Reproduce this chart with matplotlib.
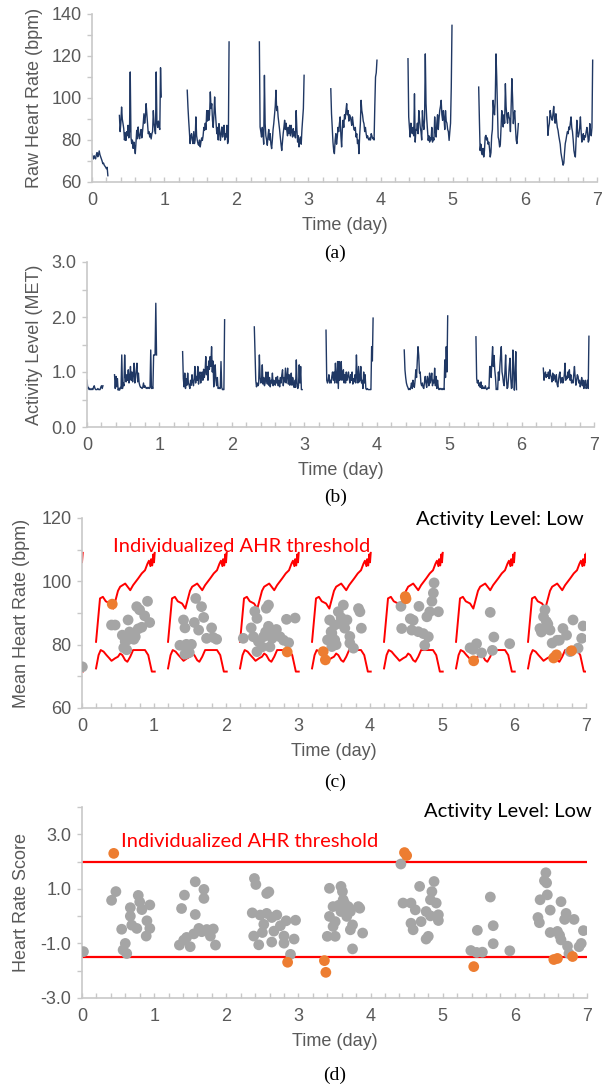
import numpy as np
import matplotlib
matplotlib.use("Agg")
import matplotlib.pyplot as plt
from matplotlib.ticker import MultipleLocator

# ---------------- data ----------------
# (a) raw heart rate (bpm): recording blocks, one sample every 0.01 day
hr_starts = [0.00, 0.38, 1.32, 2.32, 3.31, 4.38, 5.36, 6.31]
hr_seg0 = [73.5, 72, 71, 72.5, 71.5, 71, 73, 74, 72, 73, 74.8, 73, 72, 71, 70, 68.7,
           69, 68, 67.5, 67, 66.3, 67, 63]
hr_seg1 = [91.7, 84, 88, 95.7, 90, 87.8, 85.4, 80, 83.5, 79.8,
           84, 82, 87, 81, 84, 112.4, 81.4, 78.3, 80, 76,
           79, 77, 73.5, 79, 84.6, 80.6, 86.2, 82.2, 80.6, 83,
           85, 81, 84, 87.8, 92.5, 88, 91, 97.3, 92.5, 87.8,
           83, 84, 81.4, 83, 80.5, 83, 84, 94, 88, 85,
           83, 112.4, 87.8, 86, 89, 86.2, 85, 114.4, 100.5]
hr_seg2 = [103.7, 95.7, 89.4, 84, 78.3, 82, 83, 80, 78.3, 84,
           78.3, 80, 91, 82, 79.8, 78, 77.5, 80, 76.7, 79,
           81, 79.8, 82, 86, 84.6, 88, 85, 94, 89, 94,
           89.4, 92, 102.9, 95, 97.3, 89.4, 86, 92, 100.5, 93,
           88, 83, 86, 80, 87.8, 84, 79.8, 83, 86.2, 81.4,
           84, 87, 80, 83, 81.4, 87, 78.3, 80, 126.7]
hr_seg3 = [126.7, 86.2, 84, 81.4, 86, 83, 78, 110.8, 87.8, 82,
           80, 77.5, 82, 85, 80, 83, 78, 75.9, 80, 85,
           88, 92, 96, 103.7, 94, 96, 91, 88, 85, 81.4,
           78, 75, 79, 83, 86, 89.4, 85, 88, 84.6, 82,
           86, 83, 87, 82, 87, 84, 81.4, 85.4, 82, 84,
           81, 94, 85, 79, 82, 76.7, 80, 81.4, 78, 85,
           90, 95, 110.8]
hr_seg4 = [104.4, 92.5, 86, 79, 75, 73.5, 80, 83, 78, 81.4,
           86, 84, 88, 91, 82, 76.7, 85, 89.4, 86, 92,
           90, 94, 97.3, 92, 94, 89, 92, 91, 89.4, 87,
           91, 88, 85, 84.6, 86, 81.4, 83, 78.3, 80, 73.5,
           82, 88, 98.9, 94, 92, 89, 87.8, 84, 86, 83,
           81, 82, 80.6, 80, 81, 80, 83, 82, 80.6, 81,
           80, 96, 110, 112, 118]
hr_seg5 = [118.7, 91, 86, 81.4, 88, 84, 83, 86, 82, 102,
           79, 85, 84.6, 88, 83, 94, 90, 86, 84, 80,
           94, 88, 85, 90, 121, 97.3, 90, 85, 79.8, 82,
           79, 81, 80, 86, 79, 81, 80, 91, 84, 81.4,
           88, 92, 85, 90, 94, 96, 98.9, 92, 89.4, 94,
           90, 85, 94, 89, 88, 85, 84, 79.8, 84, 88,
           105.2, 134.6]
hr_seg6 = [105.2, 89.4, 75, 78, 74, 73, 76, 71.9, 75, 81.4,
           82.2, 80, 81, 78, 79, 76, 71.9, 74, 82, 85,
           98.9, 94, 92, 100, 121, 110, 95, 81.4, 80, 76.7,
           78, 86, 94, 90, 86.2, 92, 88, 106.8, 96, 91,
           88, 93, 91, 90, 84, 96, 109.2, 100, 87.8, 92.5,
           94, 86, 80, 78.3, 83, 87.8]
hr_seg7 = [91, 82.2, 86, 88, 94, 92, 90, 89.4, 92.5, 96,
           90, 88, 92.5, 89, 86, 84.6, 82, 80, 78, 74,
           71.9, 70, 68, 69, 74, 78.3, 80, 82.2, 84, 83,
           86.2, 85, 88, 91, 86, 84, 80, 75, 73, 71.9,
           80, 89.4, 84, 81.4, 83, 86, 91, 84, 79, 81,
           83, 80, 82, 81.4, 84, 86, 83, 79, 80, 87.8,
           84, 82, 86, 118]
hr_segments = [hr_seg0, hr_seg1, hr_seg2, hr_seg3, hr_seg4, hr_seg5, hr_seg6, hr_seg7]

# (b) activity level (MET), same sampling
met_starts = [0.00, 0.38, 1.32, 2.31, 3.30, 4.38, 5.37, 6.30]
met_seg0 = [0.85, 0.7, 0.72, 0.68, 0.7, 0.68, 0.68, 0.7, 0.68, 0.72, 0.75, 0.7,
            0.68, 0.68, 0.68, 0.7, 0.68, 0.68, 0.68, 0.72, 0.75, 0.7, 0.75]
met_seg1 = [0.95, 0.7, 0.92, 0.73, 0.88, 0.67, 0.7, 0.67, 0.72, 0.7,
            1.31, 0.7, 0.8, 0.75, 1.31, 0.92, 0.82, 0.95, 0.85, 1.04,
            0.8, 0.9, 1.1, 0.85, 1.0, 0.82, 0.95, 1.16, 0.8, 0.9,
            1.04, 1.16, 0.82, 0.98, 0.8, 0.75, 0.72, 0.72, 0.7, 0.72,
            0.8, 0.72, 0.75, 0.72, 0.7, 0.72, 0.7, 0.72, 0.7, 0.72,
            1.4, 0.7, 0.72, 0.7, 1.31, 1.31, 1.31, 2.25, 1.31]
met_seg2 = [1.37, 0.88, 0.73, 0.98, 0.7, 0.88, 0.76, 0.98, 0.8, 0.76,
            0.7, 0.85, 0.76, 0.95, 0.82, 0.75, 0.88, 1.1, 0.8, 0.92,
            0.85, 1.1, 0.78, 0.95, 1.0, 0.8, 0.92, 1.0, 0.85, 1.05,
            0.9, 1.0, 1.28, 0.95, 1.1, 0.85, 1.2, 1.05, 1.28, 1.1,
            1.46, 1.0, 1.2, 0.73, 0.9, 1.13, 0.85, 0.75, 0.9, 0.7,
            0.72, 0.7, 0.7, 1.19, 0.72, 0.68, 0.68, 0.68, 1.95]
met_seg3 = [1.82, 1.34, 0.85, 0.73, 0.8, 0.75, 0.78, 1.31, 0.9, 0.8,
            0.85, 1.13, 0.78, 0.9, 0.75, 0.8, 1.0, 0.85, 0.78, 1.0,
            0.76, 0.9, 0.73, 0.85, 0.8, 0.98, 0.75, 0.85, 0.78, 0.76,
            0.9, 0.8, 0.92, 0.75, 0.85, 0.73, 0.9, 0.8, 0.95, 1.04,
            0.75, 0.9, 0.82, 1.07, 0.8, 0.9, 1.07, 0.78, 0.95, 0.76,
            0.85, 0.98, 0.76, 0.9, 0.8, 0.72, 0.85, 0.72, 1.22, 0.8,
            0.7, 0.75, 1.13, 0.8, 1.1, 0.68, 0.68]
met_seg4 = [1.76, 0.85, 0.8, 0.85, 0.95, 0.8, 0.85, 0.8, 0.92, 1.0,
            0.85, 1.0, 0.8, 1.16, 0.9, 0.8, 1.19, 0.7, 1.19, 0.85,
            0.92, 1.19, 0.85, 0.92, 1.04, 0.8, 0.95, 0.8, 1.0, 0.85,
            0.92, 1.0, 0.88, 0.8, 0.95, 0.85, 1.0, 0.78, 0.88, 0.82,
            0.95, 0.8, 1.31, 0.9, 0.8, 1.1, 0.82, 0.85, 1.1, 0.8,
            0.85, 0.7, 1.0, 0.8, 0.95, 0.7, 0.68, 0.7, 0.68, 0.68,
            0.68, 0.68, 0.68, 1.46, 1.2, 1.98]
met_seg5 = [1.4, 1.04, 0.9, 0.8, 0.75, 0.72, 0.68, 0.7, 0.68, 0.72,
            0.8, 0.7, 0.85, 0.75, 0.72, 0.85, 1.04, 0.9, 1.2, 1.46,
            1.3, 0.98, 1.0, 0.8, 0.75, 0.8, 0.72, 0.7, 0.82, 0.92,
            0.8, 0.72, 0.92, 0.85, 0.75, 0.98, 0.8, 0.88, 0.98, 0.75,
            0.85, 0.8, 1.07, 0.75, 0.92, 0.7, 0.85, 0.72, 0.68, 0.7,
            0.7, 0.68, 0.7, 0.68, 0.7, 0.68, 1.22, 0.9, 1.46, 1.0,
            2.02]
met_seg6 = [1.64, 0.88, 0.8, 0.85, 0.75, 0.8, 0.72, 0.82, 0.7, 0.75,
            0.7, 0.72, 0.7, 0.75, 0.7, 0.68, 0.7, 0.72, 0.7, 1.1,
            1.1, 0.9, 1.2, 1.46, 1.1, 1.3, 1.04, 0.9, 0.68, 0.7,
            0.68, 1.0, 0.85, 1.1, 1.3, 1.46, 1.0, 0.92, 0.8, 0.75,
            1.0, 1.31, 0.9, 0.7, 0.72, 0.9, 1.1, 1.25, 0.9, 0.7,
            0.72, 1.4, 1.1, 0.67, 0.9, 1.37, 0.68]
met_seg7 = [1.07, 0.85, 0.95, 1.0, 0.9, 0.95, 0.92, 1.0, 0.88, 1.04,
            0.95, 0.9, 0.82, 0.98, 0.85, 0.95, 0.9, 0.82, 0.95, 0.78,
            0.73, 0.85, 0.95, 1.0, 0.8, 0.85, 0.9, 0.8, 0.85, 0.95,
            1.16, 0.85, 0.92, 0.88, 1.0, 0.9, 1.04, 0.85, 0.95, 0.8,
            0.85, 0.8, 0.95, 1.1, 0.9, 0.76, 0.85, 0.95, 0.92, 0.8,
            0.85, 0.73, 0.8, 0.9, 0.75, 0.85, 0.7, 0.78, 0.85, 0.7,
            0.72, 0.85, 0.7, 1.65]
met_segments = [met_seg0, met_seg1, met_seg2, met_seg3, met_seg4, met_seg5, met_seg6, met_seg7]

# (c) individualized AHR threshold, same daily profile (offset within day, bpm)
thr_up_off = [0.195, 0.25, 0.29, 0.33, 0.39, 0.435, 0.50, 0.53, 0.60, 0.67, 0.71, 0.78,
              0.83, 0.875, 0.91, 0.93, 0.95, 0.96, 0.975, 0.99, 1.0, 1.01]
thr_up_val = [80.9, 94.6, 95.1, 93.7, 93.0, 91.4, 97.0, 98.3, 99.3, 97.2, 98.8, 100.9,
              102.5, 103.5, 105.6, 106.5, 104.8, 107.0, 105.0, 108.5, 106.0, 109.0]
thr_lo_off = [0.195, 0.23, 0.26, 0.30, 0.34, 0.38, 0.41, 0.46, 0.50, 0.53, 0.56, 0.60,
              0.63, 0.67, 0.71, 0.76, 0.83, 0.875, 0.92, 0.97, 1.01]
thr_lo_val = [72.5, 76.7, 78.3, 77.8, 76.7, 75.7, 74.9, 75.7, 76.2, 77.2, 76.7, 75.1,
              74.6, 76.2, 78.3, 78.3, 78.3, 78.3, 76.7, 71.5, 71.5]
thr_days = [-1, 0, 1, 2, 3, 4, 5, 6]

# (c) mean heart rate per window
mhr_gray_t = [0.005, 0.41, 0.46, 0.64, 0.56, 0.69, 0.74, 0.60, 0.64, 0.58, 0.62, 0.78, 0.83,
              0.76, 0.91, 0.87, 0.94, 0.72, 0.80, 0.66,
              1.58, 1.66, 1.69, 1.41, 1.43, 1.56, 1.62, 1.80, 1.73, 1.82, 1.87, 1.36, 1.45,
              1.52, 1.49, 1.43, 1.47,
              2.59, 2.56, 2.40, 2.43, 2.35, 2.59, 2.70, 2.66, 2.84, 2.96, 2.24, 2.38, 2.45,
              2.52, 2.75, 2.80, 2.50, 2.61, 2.43, 2.87, 2.64, 2.55,
              3.44, 3.46, 3.41, 3.63, 3.56, 3.68, 3.51, 3.65, 3.84, 3.86, 3.88, 3.47, 3.72,
              3.51, 3.47, 3.77, 3.72, 3.58, 3.60, 3.53,
              4.43, 4.89, 4.88, 4.86, 4.95, 4.83, 4.79, 4.68, 4.56, 4.60, 4.44, 4.58, 4.67,
              4.74, 4.81, 4.76,
              5.67, 5.72, 5.48, 5.39, 5.55, 5.70, 5.94, 5.43,
              6.43, 6.41, 6.45, 6.36, 6.50, 6.68, 6.73, 6.63, 6.82, 6.96, 6.94, 6.53, 6.60,
              6.78, 6.89, 6.38, 6.47]
mhr_gray_v = [73.0, 86.2, 86.2, 87.8, 83.0, 83.0, 82.5, 81.0, 81.6, 79.0, 78.4, 85.0, 85.5,
              92.0, 93.7, 89.1, 87.0, 81.7, 91.0, 84.0,
              94.6, 92.0, 88.6, 87.8, 85.3, 87.0, 84.6, 85.3, 82.0, 82.3, 81.7, 79.8, 80.1,
              80.1, 77.5, 77.0, 78.6,
              92.5, 91.5, 90.5, 88.3, 85.3, 85.8, 84.8, 83.2, 88.0, 88.4, 82.0, 82.5, 81.0,
              82.5, 82.5, 81.4, 79.3, 79.3, 77.8, 80.6, 82.0, 84.0,
              87.8, 84.1, 81.5, 92.5, 90.4, 87.8, 86.2, 85.2, 91.4, 90.4, 85.2, 83.6, 82.6,
              81.5, 79.4, 78.9, 80.5, 86.7, 88.5, 80.0,
              92.1, 99.5, 96.3, 93.7, 90.4, 90.4, 88.8, 92.1, 88.2, 87.7, 85.1, 84.6, 84.1,
              83.5, 82.5, 79.8,
              90.2, 82.4, 80.3, 79.0, 77.4, 78.2, 80.3, 78.5,
              91.0, 88.8, 87.3, 85.1, 84.6, 85.1, 83.0, 81.4, 87.8, 85.9, 82.0, 80.5, 81.4,
              77.8, 78.9, 84.0, 86.5]
mhr_alert_t = [0.42, 2.85, 3.35, 3.38, 4.49, 4.50, 5.44, 6.55, 6.59, 6.80]
mhr_alert_v = [92.8, 77.7, 77.8, 75.2, 95.2, 94.5, 74.9, 75.8, 76.8, 78.1]

# (d) heart rate score per window
hrs_gray_t = [0.02, 0.47, 0.41, 0.78, 0.80, 0.67, 0.83, 0.94, 0.67, 0.90, 0.69, 0.76, 0.94,
              0.89, 0.55, 0.60, 0.62, 0.57,
              1.57, 1.69, 1.42, 1.69, 1.38, 1.57, 1.62, 1.73, 1.82, 1.55, 1.45, 1.41, 1.35,
              1.50, 1.85, 1.78, 1.66,
              2.39, 2.41, 2.59, 2.56, 2.36, 2.47, 2.56, 2.63, 2.70, 2.83, 2.96, 2.52, 2.75,
              2.50, 2.66, 2.38, 2.80, 2.94, 2.45, 2.63, 2.80, 2.89,
              3.43, 3.59, 3.61, 3.48, 3.64, 3.69, 3.72, 3.59, 3.43, 3.51, 3.48, 3.67, 3.83,
              3.85, 3.75, 3.72, 3.89, 3.40, 3.51, 3.75, 3.62, 3.56,
              4.42, 4.45, 4.56, 4.68, 4.88, 4.85, 4.83, 4.91, 4.62, 4.77, 4.94, 4.70, 4.56,
              4.83, 4.94, 4.59, 4.80, 4.77,
              5.66, 5.48, 5.70, 5.70, 5.39, 5.47, 5.55, 5.93,
              6.43, 6.41, 6.35, 6.45, 6.49, 6.64, 6.71, 6.69, 6.82, 6.32, 6.34, 6.49, 6.59,
              6.64, 6.95, 6.92, 6.89, 6.73, 6.75, 6.44, 6.62]
hrs_gray_v = [-1.30, 0.90, 0.58, 0.76, 0.52, 0.31, 0.24, 0.41, 0.00, -0.17, -0.33, -0.45, -0.45,
              -0.73, -0.48, -1.00, -1.37, -1.24,
              1.26, 0.98, 0.77, 0.65, 0.28, 0.06, -0.45, -0.49, -0.47, -0.65, -0.78, -0.88,
              -1.06, -1.12, -1.06, -0.73, -0.57,
              1.38, 1.16, 0.89, 0.83, 0.12, 0.04, 0.10, -0.05, 0.04, -0.17, -0.15, -0.30,
              -0.35, -0.60, -0.55, -0.73, -0.73, -0.84, -1.05, -0.95, -0.99, -1.40,
              1.02, 1.09, 0.90, 0.35, 0.47, 0.35, 0.17, 0.17, -0.01, -0.20, -0.38, -0.01,
              0.35, 0.29, -0.32, -0.50, -0.62, -0.74, -0.74, -1.20, 0.60, 0.40,
              1.91, 0.48, 0.48, 1.09, 1.27, 0.90, 0.60, 0.48, 0.23, 0.17, 0.05, -0.20, -0.26,
              0.01, -0.16, -0.50, -0.74, -0.84,
              0.70, -0.52, -0.35, -1.01, -1.26, -1.33, -1.32, -1.27,
              1.59, 1.30, 0.60, 0.78, 0.22, 0.53, 0.10, -0.12, -0.12, -0.05, -0.24, -0.60,
              -0.56, -0.87, -0.53, -1.00, -1.12, -1.10, -1.37, 1.22, -0.70]
hrs_alert_t = [0.44, 4.47, 4.50, 2.85, 3.36, 3.38, 5.43, 6.54, 6.59, 6.80]
hrs_alert_v = [2.30, 2.33, 2.22, -1.69, -1.63, -2.06, -1.85, -1.59, -1.55, -1.48]
hrs_thresholds = [2.0, -1.5]

# ---------------- styling ----------------
NAVY = "#203864"
GRAY = "#a5a5a5"
ORANGE = "#ed7d31"
RED = "#ff0000"
AXC = "#c8c8c8"
TXT = "#595959"
SANS = ["Liberation Sans", "DejaVu Sans"]
CAL = ["Lato", "DejaVu Sans"]
DOT = 60

plt.rcParams["font.family"] = SANS
W, H = 606, 1086
fig = plt.figure(figsize=(W / 100, H / 100), dpi=100)


def make_ax(left, right, top, bottom):
    ax = fig.add_axes([left / W, 1 - bottom / H, (right - left) / W, (bottom - top) / H])
    for s in ["top", "right"]:
        ax.spines[s].set_visible(False)
    for s in ["left", "bottom"]:
        ax.spines[s].set_color(AXC)
        ax.spines[s].set_linewidth(1.2)
    ax.set_xlim(0, 7)
    ax.xaxis.set_major_locator(MultipleLocator(1))
    ax.xaxis.set_minor_locator(MultipleLocator(0.2))
    ax.tick_params(axis="x", which="both", direction="in", length=3.5, width=1.0,
                   color=AXC, labelcolor=TXT, labelsize=13, pad=7)
    ax.tick_params(axis="y", which="both", direction="out", length=3.5, width=1.0,
                   color=AXC, labelcolor=TXT, labelsize=13, pad=4)
    ax.set_xlabel("Time (day)", fontsize=13, color=TXT, labelpad=6)
    return ax


def caption(y, s):
    fig.text(0.553, 1 - y / H, s, ha="center", va="center", fontsize=14,
             family=["Liberation Serif", "DejaVu Serif"])


# (a) raw heart rate
ax = make_ax(92, 597, 14, 182)
for t0, seg in zip(hr_starts, hr_segments):
    t = t0 + 0.01 * np.arange(len(seg))
    ax.plot(t, seg, color=NAVY, lw=1.0)
ax.set_ylim(60, 140)
ax.yaxis.set_major_locator(MultipleLocator(20))
ax.yaxis.set_minor_locator(MultipleLocator(10))
ax.set_ylabel("Raw Heart Rate (bpm)", fontsize=13, color=TXT, labelpad=6)
caption(253, "(a)")

# (b) activity level
ax = make_ax(87, 594, 262, 427)
for t0, seg in zip(met_starts, met_segments):
    t = t0 + 0.01 * np.arange(len(seg))
    ax.plot(t, seg, color=NAVY, lw=1.0)
ax.set_ylim(0, 3)
ax.yaxis.set_major_locator(MultipleLocator(1))
ax.yaxis.set_minor_locator(MultipleLocator(0.5))
ax.yaxis.set_major_formatter(lambda v, p: f"{v:.1f}")
ax.set_ylabel("Activity Level (MET)", fontsize=13, color=TXT, labelpad=6)
caption(497, "(b)")

# (c) mean heart rate with individualized thresholds
ax = make_ax(82, 586, 518, 708)
for d in thr_days:
    ax.plot(d + np.array(thr_up_off), thr_up_val, color=RED, lw=1.4)
    ax.plot(d + np.array(thr_lo_off), thr_lo_val, color=RED, lw=1.4)
ax.scatter(mhr_gray_t, mhr_gray_v, s=DOT, color=GRAY, edgecolors="none", zorder=3)
ax.scatter(mhr_alert_t, mhr_alert_v, s=DOT, color=ORANGE, edgecolors="none", zorder=4)
ax.set_ylim(60, 120)
ax.yaxis.set_major_locator(MultipleLocator(20))
ax.yaxis.set_minor_locator(MultipleLocator(10))
ax.set_ylabel("Mean Heart Rate (bpm)", fontsize=13, color=TXT, labelpad=8)
ax.text(0.995, 0.99, "Activity Level: Low", transform=ax.transAxes, ha="right", va="center",
        fontsize=14.5, color="black", family=CAL)
ax.text(0.43, 111, "Individualized AHR threshold", ha="left", va="center",
        fontsize=14.5, color=RED, family=CAL)
caption(782, "(c)")

# (d) heart rate score
ax = make_ax(82, 587, 807, 998)
for y in hrs_thresholds:
    ax.axhline(y, color=RED, lw=1.6, zorder=2)
ax.scatter(hrs_gray_t, hrs_gray_v, s=DOT, color=GRAY, edgecolors="none", zorder=3)
ax.scatter(hrs_alert_t, hrs_alert_v, s=DOT, color=ORANGE, edgecolors="none", zorder=4)
ax.set_ylim(-3, 4)
ax.set_yticks([-3, -1, 1, 3])
ax.yaxis.set_minor_locator(MultipleLocator(1))
ax.yaxis.set_major_formatter(lambda v, p: f"{v:.1f}")
ax.set_ylabel("Heart Rate Score", fontsize=13, color=TXT, labelpad=8)
ax.text(1.01, 3.85, "Activity Level: Low", ha="right", va="center",
        transform=ax.get_yaxis_transform(), fontsize=14.5, color="black", family=CAL)
ax.text(0.54, 2.72, "Individualized AHR threshold", ha="left", va="center",
        fontsize=14.5, color=RED, family=CAL)
caption(1075, "(d)")

fig.savefig("out.png", dpi=100)
